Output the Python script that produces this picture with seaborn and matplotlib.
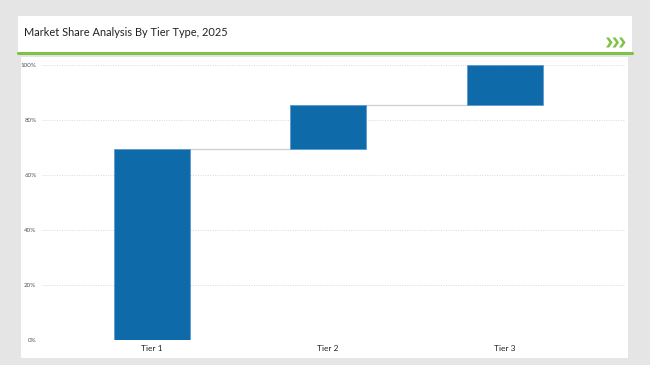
import matplotlib
matplotlib.use("Agg")
import matplotlib.pyplot as plt
import seaborn as sns
import pandas as pd
from matplotlib.patches import Rectangle, Polygon
from matplotlib.lines import Line2D

categories = ["Tier 1", "Tier 2", "Tier 3"]
shares = [69.5, 16.0, 14.5]
ytick_vals = [0, 20, 40, 60, 80, 100]
ytick_labels = ["0%", "20%", "40%", "60%", "80%", "100%"]
title = "Market Share Analysis By Tier Type, 2025"

bases = []
acc = 0.0
for s in shares:
    bases.append(acc)
    acc += s
tops = [b + s for b, s in zip(bases, shares)]

df = pd.DataFrame({"tier": categories, "share": shares, "base": bases, "top": tops})

sns.set_theme(style="white")
plt.rcParams["font.family"] = ["Lato", "DejaVu Sans"]

W, H = 650, 365
fig = plt.figure(figsize=(6.5, 3.65), dpi=100)
fig.patch.set_facecolor("#e5e5e5")

def fx(px):
    return px / W

def fy(py):
    return 1 - py / H

# header panel
fig.add_artist(Rectangle((fx(18), fy(52)), (632 - 18) / W, (52 - 16) / H,
                         transform=fig.transFigure, facecolor="white", edgecolor="none", zorder=0))
fig.add_artist(Line2D([fx(18), fx(632)], [fy(52.5), fy(52.5)], transform=fig.transFigure,
                      color="#7dc243", lw=2.2, zorder=1))
# chart panel
fig.add_artist(Rectangle((fx(21), fy(358)), (628 - 21) / W, (358 - 57) / H,
                         transform=fig.transFigure, facecolor="white", edgecolor="none", zorder=0))
fig.text(fx(24), fy(33), title, fontsize=7.9, color="#222222", va="center", ha="left")

# chevrons
for k in range(3):
    x0 = 606 + k * 6.5
    pts = [(x0, 37.5), (x0 + 3, 37.5), (x0 + 6.5, 42.5), (x0 + 3, 47.5), (x0, 47.5), (x0 + 3.5, 42.5)]
    fig.add_artist(Polygon([(fx(a), fy(b)) for a, b in pts], closed=True, transform=fig.transFigure,
                           facecolor="#7dc243", edgecolor="none", zorder=2))

ax = fig.add_axes([fx(42), fy(340), (625 - 42) / W, (340 - 65) / H])
ax.set_facecolor("none")

sns.barplot(data=df, x="tier", y="share", color="#0e6aa8", width=0.43, ax=ax,
            saturation=1, edgecolor="#5b9bd0", linewidth=0.6, zorder=3)
for p, b in zip(ax.patches, bases):
    p.set_y(b)

xs = [p.get_x() for p in ax.patches]
ws = [p.get_width() for p in ax.patches]
for i in range(len(shares) - 1):
    ax.plot([xs[i] + ws[i], xs[i + 1]], [tops[i], tops[i]], color="#cfcfcf", lw=0.9, zorder=2)

ax.set_ylim(0, 100)
ax.set_xlim(-0.62, 2.68)
ax.set_yticks(ytick_vals)
ax.set_yticklabels(ytick_labels)
ax.yaxis.grid(True, linestyle=(0, (1, 1.5)), color="#d9d9d9", lw=0.7)
ax.set_axisbelow(True)
ax.tick_params(axis="y", labelsize=4.5, colors="#555555", length=0, pad=4)
ax.tick_params(axis="x", labelsize=6, colors="#222222", length=0, pad=3.5)
ax.set_xlabel("")
ax.set_ylabel("")
for s in ax.spines.values():
    s.set_visible(False)

fig.savefig("out.png", dpi=100, facecolor=fig.get_facecolor())
